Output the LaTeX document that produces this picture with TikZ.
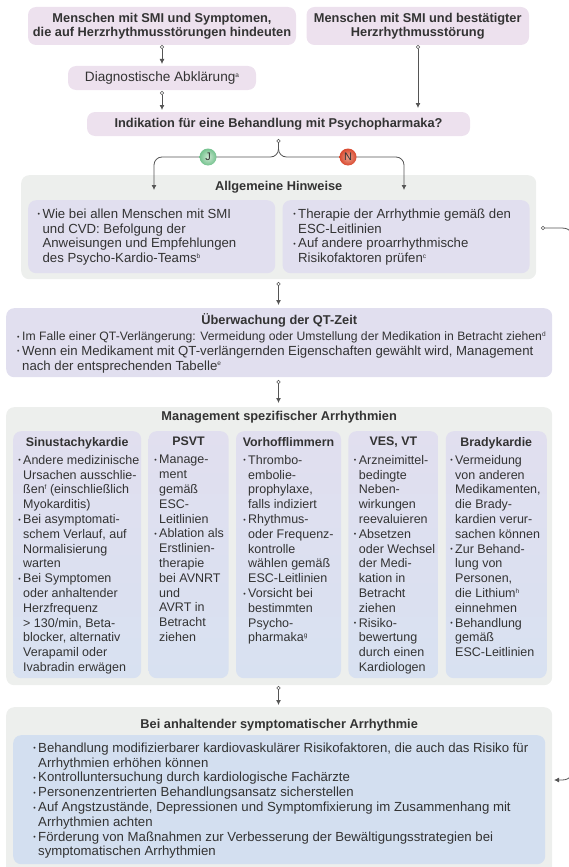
\documentclass[tikz,border=0pt]{standalone}
\usepackage{fontspec}
\setmainfont{Liberation Sans}
\usepackage{xcolor}
\usetikzlibrary{arrows.meta, positioning}

\definecolor{pinkbox}{HTML}{EDE1EE}
\definecolor{greybox}{HTML}{EDEFED}
\definecolor{lilabox}{HTML}{E1DFEF}
\definecolor{bluebox}{HTML}{D3DFF0}
\definecolor{colbottom}{HTML}{D8E1F1}
\definecolor{inktext}{HTML}{333333}
\definecolor{linegrey}{HTML}{555555}
\definecolor{jalight}{HTML}{CCE8D2}
\definecolor{jadark}{HTML}{74C28E}
\definecolor{neinlight}{HTML}{EBA28E}
\definecolor{neindark}{HTML}{D9492F}

\newcommand{\bul}{\llap{\raisebox{.2ex}{\fontsize{7}{7}\selectfont\textbullet}\hspace{2.5pt}}}
\newcommand{\hoch}[1]{\raisebox{.6ex}{\fontsize{6.5}{6.5}\selectfont #1}}

\tikzset{
  box/.style={rounded corners=8pt, draw=none, minimum height=#1, inner sep=0pt},
  pinkrole/.style={box=#1, fill=pinkbox, align=center, text=inktext, font=\fontsize{12.8}{14}\selectfont\bfseries},
  greyrole/.style={box=#1, fill=greybox, anchor=north west},
  lilarole/.style={box=#1, fill=lilabox, anchor=north west},
  colrole/.style={box=247pt, anchor=north west, top color=lilabox, bottom color=colbottom},
  title/.style={font=\fontsize{12.8}{14.8}\selectfont\bfseries, text=inktext, inner sep=0pt, align=center},
  coltitle/.style={title, font=\fontsize{12.4}{14.8}\selectfont\bfseries},
  body/.style={font=\fontsize{13.2}{14.8}\selectfont, text=inktext, inner sep=0pt, align=left, anchor=north west},
  colbody/.style={body, font=\fontsize{12.5}{14.8}\selectfont},
  flow/.style={draw=linegrey, line width=.8pt, -{Latex[length=5pt,width=5pt]}},
  dot/.style={circle, draw=linegrey, fill=white, line width=.4pt, inner sep=0pt, minimum size=3.5pt},
  badge/.style={circle, inner sep=0pt, minimum size=17pt, text=inktext, font=\fontsize{11}{11}\selectfont}
}

\begin{document}
\begin{tikzpicture}[x=1pt, y=-1pt]
  \useasboundingbox (0,0) rectangle (568,867);

  % top row
  \node[pinkrole=38pt, minimum width=268pt] (symptome) at (162,26)
    {Menschen mit SMI und Symptomen,\\die auf Herzrhythmusstörungen hindeuten};
  \node[pinkrole=38pt, minimum width=222.5pt] (bestaetigt) at (417.75,26)
    {Menschen mit SMI und bestätigter\\Herzrhythmusstörung};
  \node[pinkrole=24pt, minimum width=188pt, font=\fontsize{13.6}{14.8}\selectfont] (abklaerung) at (162,78)
    {Diagnostische Abklärung\hoch{a}};
  \node[pinkrole=24pt, minimum width=383pt] (indikation) at (278.5,124)
    {Indikation für eine Behandlung mit Psychopharmaka?};

  % Allgemeine Hinweise
  \node[greyrole=104pt, minimum width=515pt] (hinweise) at (21,175) {};
  \node[title, below=6.5pt of hinweise.north] (hinweisetitel) {Allgemeine Hinweise};
  \node[lilarole=73pt, minimum width=247pt] (links) at (28,200) {};
  \node[lilarole=73pt, minimum width=247pt, right=7pt of links] (rechts) {};
  \node[body] (linkstext) at (42.4,208.5)
    {\bul Wie bei allen Menschen mit SMI\\und CVD: Befolgung der\\Anweisungen und Empfehlungen\\des Psycho-Kardio-Teams\hoch{b}};
  \node[body] (rechtstext) at (298,208.5)
    {\bul Therapie der Arrhythmie gemäß den\\ESC-Leitlinien\\\bul Auf andere proarrhythmische\\Risikofaktoren prüfen\hoch{c}};

  % QT-Zeit
  \node[lilarole=69pt, minimum width=546pt] (qtzeit) at (6,308) {};
  \node[title, below=5pt of qtzeit.north] (qttitel) {Überwachung der QT-Zeit};
  \node[body] (qttext) at (22,331.5)
    {\bul {\fontsize{12.2}{14.8}\selectfont Im Falle einer QT-Verlängerung: Vermeidung oder Umstellung der Medikation in Betracht ziehen\hoch{d}}\\\bul Wenn ein Medikament mit QT-verlängernden Eigenschaften gewählt wird, Management\\nach der entsprechenden Tabelle\hoch{e}};

  % Management
  \node[greyrole=278pt, minimum width=546pt] (management) at (6,407) {};
  \node[title, below=4pt of management.north] (mgmttitel) {Management spezifischer Arrhythmien};
  \node[colrole, minimum width=128pt] (sinus) at (13,431) {};
  \node[colrole, minimum width=80pt, right=7pt of sinus] (psvt) {};
  \node[colrole, minimum width=105pt, right=7pt of psvt] (vhf) {};
  \node[colrole, minimum width=90pt, right=7pt of vhf] (ves) {};
  \node[colrole, minimum width=101pt, right=7pt of ves] (brady) {};

  \node[coltitle, below=6pt of sinus.north] (sinustitel) {Sinustachykardie};
  \node[coltitle, below=6pt of psvt.north] (psvttitel) {PSVT};
  \node[coltitle, below=6pt of vhf.north] (vhftitel) {Vorhofflimmern};
  \node[coltitle, below=6pt of ves.north] (vestitel) {VES, VT};
  \node[coltitle, below=6pt of brady.north] (bradytitel) {Bradykardie};

  \node[colbody] (sinustext) at (23,455)
    {\bul Andere medizinische\\Ursachen ausschlie-\\ßen\hoch{f} (einschließlich\\Myokarditis)\\\bul Bei asymptomati-\\schem Verlauf, auf\\Normalisierung\\warten\\\bul Bei Symptomen\\oder anhaltender\\Herzfrequenz\\> 130/min, Beta-\\blocker, alternativ\\Verapamil oder\\Ivabradin erwägen};
  \node[colbody] (psvttext) at (159,455)
    {\bul Manage-\\ment\\gemäß\\ESC-\\Leitlinien\\\bul Ablation als\\Erstlinien-\\therapie\\bei AVNRT\\und\\AVRT in\\Betracht\\ziehen};
  \node[colbody] (vhftext) at (248,455)
    {\bul Thrombo-\\embolie-\\prophylaxe,\\falls indiziert\\\bul Rhythmus-\\oder Frequenz-\\kontrolle\\wählen gemäß\\ESC-Leitlinien\\\bul Vorsicht bei\\bestimmten\\Psycho-\\pharmaka\hoch{g}};
  \node[colbody] (vestext) at (358.7,455)
    {\bul Arzneimittel-\\bedingte\\Neben-\\wirkungen\\reevaluieren\\\bul Absetzen\\oder Wechsel\\der Medi-\\kation in\\Betracht\\ziehen\\\bul Risiko-\\bewertung\\durch einen\\Kardiologen};
  \node[colbody] (bradytext) at (455,455)
    {\bul Vermeidung\\von anderen\\Medikamenten,\\die Brady-\\kardien verur-\\sachen können\\\bul Zur Behand-\\lung von\\Personen,\\die Lithium\hoch{h}\\einnehmen\\\bul Behandlung\\gemäß\\ESC-Leitlinien};

  % anhaltende Arrhythmie
  \node[greyrole=170pt, minimum width=546pt] (anhaltend) at (6,707) {};
  \node[title, below=12pt of anhaltend.north] (anhaltendtitel) {Bei anhaltender symptomatischer Arrhythmie};
  \node[box=129pt, fill=bluebox, minimum width=532pt, anchor=north west] (massnahmen) at (13,735) {};
  \node[body] (massnahmentext) at (38,742.5)
    {\bul Behandlung modifizierbarer kardiovaskulärer Risikofaktoren, die auch das Risiko für\\Arrhythmien erhöhen können\\\bul Kontrolluntersuchung durch kardiologische Fachärzte\\\bul Personenzentrierten Behandlungsansatz sicherstellen\\\bul Auf Angstzustände, Depressionen und Symptomfixierung im Zusammenhang mit\\Arrhythmien achten\\\bul Förderung von Maßnahmen zur Verbesserung der Bewältigungsstrategien bei\\symptomatischen Arrhythmien};

  % connector ends
  \node[dot] (d1) at (162,47) {};
  \node[dot] (d2) at (418,47) {};
  \node[dot] (d3) at (162,93) {};
  \node[dot] (d4) at (278.5,141) {};
  \node[dot] (d5) at (278.5,284) {};
  \node[dot] (d6) at (278.5,382) {};
  \node[dot] (d7) at (278.5,688) {};
  \node[dot] (d8) at (543,228) {};
  \coordinate (a1) at (162,64);
  \coordinate (a2) at (418,108);
  \coordinate (a3) at (162,110);
  \coordinate (a4) at (154,190);
  \coordinate (a5) at (404,190);
  \coordinate (a6) at (278.5,305);
  \coordinate (a7) at (278.5,403);
  \coordinate (a8) at (278.5,705);
  \coordinate (a9) at (554,780);
  \coordinate (gabel) at (278.5,157);

  \draw[flow] (d1) -- (a1);
  \draw[flow] (d2) -- (a2);
  \draw[flow] (d3) -- (a3);
  \draw[flow] (d5) -- (a6);
  \draw[flow] (d6) -- (a7);
  \draw[flow] (d7) -- (a8);
  \draw[flow, rounded corners=8pt] (d4) -- (gabel) -- (a4 |- gabel) -- (a4);
  \draw[flow, rounded corners=8pt] (d4) -- (gabel) -- (a5 |- gabel) -- (a5);
  \draw[flow, rounded corners=14pt] (d8) -- (576,228) -- (576,780) -- (a9);

  \node[badge, inner color=jalight, outer color=jadark] (ja) at (208,157) {J};
  \node[badge, inner color=neinlight, outer color=neindark] (nein) at (348,157) {N};
\end{tikzpicture}
\end{document}
